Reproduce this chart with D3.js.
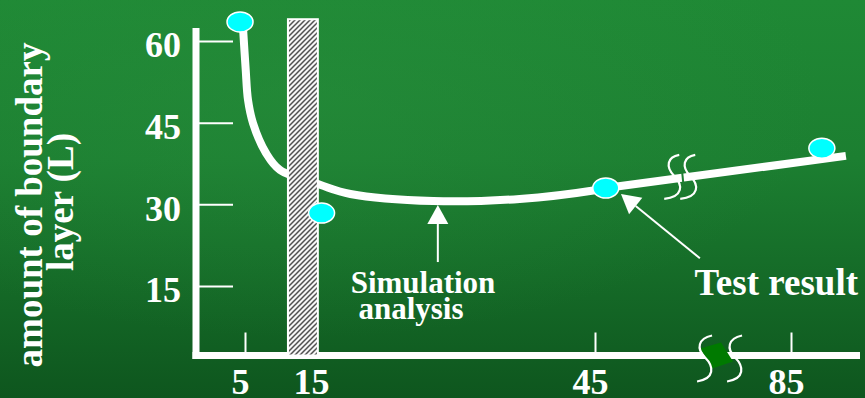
<!DOCTYPE html>
<html>
<head>
<meta charset="utf-8">
<script src="https://cdn.jsdelivr.net/npm/d3@7/dist/d3.min.js"></script>
<style>
html,body{margin:0;padding:0;background:#17702c;}
svg{display:block;}
text{font-family:"Liberation Serif","Times New Roman",serif;font-weight:bold;fill:#fff;}
</style>
</head>
<body>
<svg id="chart" width="865" height="398"></svg>
<script>
// ---------- data ----------
const xTicks = [5, 15, 45, 85];
const yTicks = [15, 30, 45, 60];
// simulation analysis curve
const simX = [4.72, 5.1, 5.42, 6.13, 7.96, 9.93, 15.43, 18.7, 27.6, 36.9, 45, 47.2];
const simY = [62.4, 54.7, 49.2, 44.9, 39.4, 36.3, 33.6, 31.9, 30.6, 31.0, 32.6, 33.0];
// straight trend through test results
const trendX = [47.2, 96.2];
const trendY = [33.0, 38.9];
// test result points
const testX = [4.3, 15.6, 47.2, 91.3];
const testY = [63.5, 28.4, 33.0, 40.3];
// hatched wall (x-extent) and its top
const wallX = [11.05, 15.2];
const wallTop = 64.0;
// annotations: [tailX, tailY, tipX, tipY]
const simArrow = [28.1, 19.4, 28.1, 29.9];
const testArrow = [66.4, 20.1, 50.3, 31.9];
const simLabel = ["Simulation", "analysis"];
const testLabel = "Test result";
const yTitle = ["amount of boundary", "layer (L)"];
const curveBreakX = 62.6;
const axisBreakX = 69.5;

// ---------- layout ----------
const W = 865, H = 398;
const axisX = 196, axisY = 355.5;
const x = d3.scaleLinear().domain([5, 15, 45, 85]).range([245, 316, 595, 791]);
const y = d3.scaleLinear().domain([15, 60]).range([286, 41]);

const svg = d3.select("#chart");
const defs = svg.append("defs");
const bg = defs.append("linearGradient").attr("id","bg").attr("x1",0).attr("y1",0).attr("x2",0).attr("y2",1);
bg.append("stop").attr("offset","0%").attr("stop-color","#1f8935");
bg.append("stop").attr("offset","40%").attr("stop-color","#1c7f31");
bg.append("stop").attr("offset","100%").attr("stop-color","#0e561e");
const rg = defs.append("radialGradient").attr("id","glow").attr("cx","0.35").attr("cy","0.25").attr("r","0.6");
rg.append("stop").attr("offset","0%").attr("stop-color","#2a903e").attr("stop-opacity",0.4);
rg.append("stop").attr("offset","100%").attr("stop-color","#2a903e").attr("stop-opacity",0);
const pat = defs.append("pattern").attr("id","hatch").attr("patternUnits","userSpaceOnUse")
  .attr("width",5).attr("height",5);
pat.append("rect").attr("width",5).attr("height",5).attr("fill","#f6f6f6");
pat.append("path").attr("d","M-1,6 L6,-1 M-1,1 L1,-1 M4,6 L6,4").attr("stroke","#505050").attr("stroke-width",1.5);

svg.append("rect").attr("width",W).attr("height",H).attr("fill","url(#bg)");
svg.append("rect").attr("width",W).attr("height",H).attr("fill","url(#glow)");

// y axis ticks + labels
const gy = svg.append("g").attr("transform",`translate(${axisX},0)`)
  .call(d3.axisLeft(y).tickValues(yTicks).tickSize(-37).tickPadding(15));
gy.select(".domain").remove();
gy.selectAll("line").attr("stroke","#fff").attr("stroke-width",2);
gy.selectAll("text").attr("fill","#fff").attr("font-size",36)
  .attr("font-family","Liberation Serif, Times New Roman, serif").attr("font-weight","bold").attr("dy","0.44em");

// x axis ticks + labels
const gx = svg.append("g").attr("transform",`translate(0,${axisY})`)
  .call(d3.axisBottom(x).tickValues(xTicks).tickSize(-23).tickPadding(0));
gx.select(".domain").remove();
gx.selectAll("line").attr("stroke","#fff").attr("stroke-width",2);
gx.selectAll("text").attr("fill","#fff").attr("font-size",36)
  .attr("font-family","Liberation Serif, Times New Roman, serif").attr("font-weight","bold")
  .attr("y",38.5).attr("dy",0).attr("dx",-5);

// axis lines
svg.append("rect").attr("x",axisX-3.5).attr("y",28).attr("width",7).attr("height",axisY+3.5-28).attr("fill","#fff");
svg.append("rect").attr("x",axisX-3.5).attr("y",axisY-3.5).attr("width",860-(axisX-3.5)).attr("height",7).attr("fill","#fff");

// simulation curve
const simData = simX.map((v,i)=>[v, simY[i]]);
svg.append("path").datum(simData)
  .attr("d", d3.line().x(d=>x(d[0])).y(d=>y(d[1])).curve(d3.curveCatmullRom.alpha(0.5)))
  .attr("fill","none").attr("stroke","#fff").attr("stroke-width",8);
const trendData = trendX.map((v,i)=>[v, trendY[i]]);
svg.append("path").datum(trendData)
  .attr("d", d3.line().x(d=>x(d[0])).y(d=>y(d[1])))
  .attr("fill","none").attr("stroke","#fff").attr("stroke-width",8);

// wall
svg.append("rect").attr("x",x(wallX[0])).attr("y",y(wallTop))
  .attr("width",x(wallX[1])-x(wallX[0])).attr("height",axisY - y(wallTop))
  .attr("fill","url(#hatch)").attr("stroke","#fff").attr("stroke-width",2);

// curve break
{
  const bx = x(curveBreakX);
  const tr = d3.scaleLinear().domain(trendX).range(trendY);
  const by = y(tr(curveBreakX));
  svg.append("line").attr("x1",bx+1).attr("y1",by-5).attr("x2",bx+2).attr("y2",by+5)
    .attr("stroke","#1d7f32").attr("stroke-width",2);
  const s = (dx) => `M${bx+dx-2},${by-23} C${bx+dx-14},${by-21} ${bx+dx-16},${by-11} ${bx+dx-7},${by-2} C${bx+dx+2},${by+7} ${bx+dx+2},${by+19} ${bx+dx-17},${by+21}`;
  svg.append("path").attr("d",s(0)).attr("fill","none").attr("stroke","#fff").attr("stroke-width",2.2);
  svg.append("path").attr("d",s(16)).attr("fill","none").attr("stroke","#fff").attr("stroke-width",2.2);
}
// axis break
{
  const bx = x(axisBreakX), by = axisY;
  svg.append("polygon").attr("points",[[bx-15,by-7],[bx+6,by-13],[bx+18,by+6],[bx-3,by+13]].map(p=>p.join(",")).join(" "))
    .attr("fill","#007a00");
  const s = (dx) => `M${bx+dx-3},${by-20} C${bx+dx-17},${by-17} ${bx+dx-19},${by-7} ${bx+dx-10},${by+2} C${bx+dx-1},${by+11} ${bx+dx},${by+23} ${bx+dx-18},${by+26}`;
  svg.append("path").attr("d",s(0)).attr("fill","none").attr("stroke","#fff").attr("stroke-width",2.2);
  svg.append("path").attr("d",s(30)).attr("fill","none").attr("stroke","#fff").attr("stroke-width",2.2);
}

// test points
svg.append("g").selectAll("ellipse").data(testX.map((v,i)=>[v,testY[i]])).join("ellipse")
  .attr("cx",d=>x(d[0])).attr("cy",d=>y(d[1])).attr("rx",13).attr("ry",10)
  .attr("fill","#00ffff").attr("stroke","#fff").attr("stroke-width",1.5);

// arrows
function arrow(a){
  const x1=x(a[0]), y1=y(a[1]), x2=x(a[2]), y2=y(a[3]);
  const ang = Math.atan2(y2-y1, x2-x1);
  const L = 19, hw = 10.5;
  const bxm = x2 - L*Math.cos(ang), bym = y2 - L*Math.sin(ang);
  svg.append("line").attr("x1",x1).attr("y1",y1).attr("x2",bxm).attr("y2",bym)
    .attr("stroke","#fff").attr("stroke-width",2);
  const p1=[bxm + hw*Math.sin(ang), bym - hw*Math.cos(ang)];
  const p2=[bxm - hw*Math.sin(ang), bym + hw*Math.cos(ang)];
  svg.append("polygon").attr("points",[[x2,y2],p1,p2].map(p=>p.join(",")).join(" ")).attr("fill","#fff");
}
arrow(simArrow);
arrow(testArrow);

// labels
svg.append("text").attr("x",423).attr("y",293).attr("text-anchor","middle").attr("font-size",31).text(simLabel[0]);
svg.append("text").attr("x",411).attr("y",319).attr("text-anchor","middle").attr("font-size",31).text(simLabel[1]);
svg.append("text").attr("x",858).attr("y",295).attr("text-anchor","end").attr("font-size",37).text(testLabel);

// y title
svg.append("text").attr("transform","translate(42,205) rotate(-90)").attr("text-anchor","middle")
  .attr("font-size",37).text(yTitle[0]);
svg.append("text").attr("transform","translate(73,202) rotate(-90)").attr("text-anchor","middle")
  .attr("font-size",37).text(yTitle[1]);
</script>
</body>
</html>
